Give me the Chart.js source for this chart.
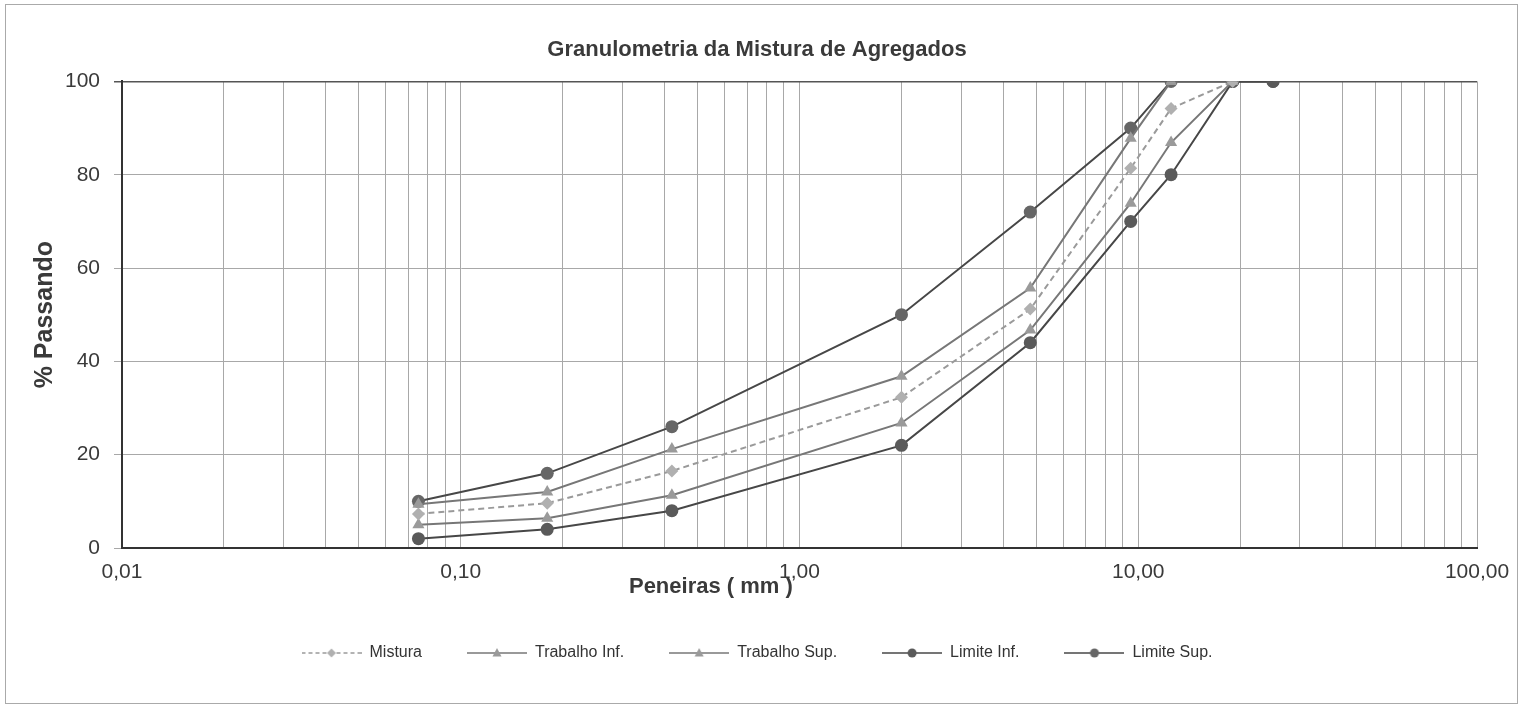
<!DOCTYPE html>
<html>
<head>
<meta charset="utf-8">
<script src="https://cdn.jsdelivr.net/npm/chart.js@4.4.1/dist/chart.umd.min.js"></script>
<style>
  html, body { margin: 0; padding: 0; background: #fff; }
</style>
</head>
<body>
<canvas id="granulometria" width="1523" height="708"></canvas>
<script>
var peneiras = [0.075, 0.18, 0.42, 2.0, 4.8, 9.5, 12.5, 19, 25];
var mistura = [7.3, 9.6, 16.5, 32.3, 51.2, 81.4, 94.2, 100, null];
var trabalhoInf = [5, 6.4, 11.3, 26.8, 46.7, 73.9, 86.9, 100, null];
var trabalhoSup = [9.4, 12, 21.2, 36.8, 55.7, 87.8, 100, 100, null];
var limiteInf = [2, 4, 8, 22, 44, 70, 80, 100, 100];
var limiteSup = [10, 16, 26, 50, 72, 90, 100, 100, 100];
var xTicks = [0.01, 0.1, 1, 10, 100];

function pts(vals) {
  var out = [];
  for (var i = 0; i < peneiras.length; i++) {
    if (vals[i] !== null) out.push({ x: peneiras[i], y: vals[i] });
  }
  return out;
}

// legend sample: short line with the marker in the middle
function legendIcon(lineColor, markColor, style, dashed) {
  var c = document.createElement("canvas");
  c.width = 60; c.height = 14;
  var g = c.getContext("2d");
  g.strokeStyle = lineColor;
  g.lineWidth = 1.5;
  if (dashed) g.setLineDash([4, 3]);
  g.beginPath(); g.moveTo(0, 7); g.lineTo(60, 7); g.stroke();
  g.setLineDash([]);
  g.fillStyle = markColor;
  g.beginPath();
  if (style === "triangle") { g.moveTo(30, 2); g.lineTo(34.5, 10.5); g.lineTo(25.5, 10.5); g.closePath(); }
  else if (style === "rectRot") { g.moveTo(30, 2.5); g.lineTo(34.5, 7); g.lineTo(30, 11.5); g.lineTo(25.5, 7); g.closePath(); }
  else { g.arc(30, 7, 4.5, 0, Math.PI * 2); }
  g.fill();
  return c;
}

var series = [
  { label: "Mistura", data: mistura, line: "#9a9a9a", mark: "#b0b0b0", style: "rectRot", dash: [6, 4], r: 6.5 },
  { label: "Trabalho Inf.", data: trabalhoInf, line: "#777777", mark: "#9a9a9a", style: "triangle", dash: [], r: 7 },
  { label: "Trabalho Sup.", data: trabalhoSup, line: "#777777", mark: "#9a9a9a", style: "triangle", dash: [], r: 7 },
  { label: "Limite Inf.", data: limiteInf, line: "#474747", mark: "#5a5a5a", style: "circle", dash: [], r: 6.5 },
  { label: "Limite Sup.", data: limiteSup, line: "#474747", mark: "#666666", style: "circle", dash: [], r: 6.5 }
];

var datasets = series.map(function (s) {
  return {
    label: s.label,
    data: pts(s.data),
    borderColor: s.line,
    backgroundColor: s.mark,
    borderWidth: 2,
    borderDash: s.dash,
    pointStyle: s.style,
    pointRadius: s.r,
    pointBorderWidth: 0,
    pointBackgroundColor: s.mark,
    tension: 0,
    _icon: legendIcon(s.line, s.mark, s.style, s.dash.length > 0)
  };
});

var frame = {
  id: "frame",
  beforeDraw: function (chart) {
    var g = chart.ctx;
    g.save();
    g.strokeStyle = "#aaaaaa";
    g.lineWidth = 1;
    g.strokeRect(5.5, 4.5, chart.width - 11, chart.height - 9);
    g.restore();
  }
};

new Chart("granulometria", {
  type: "line",
  data: { datasets: datasets },
  plugins: [frame],
  options: {
    responsive: false,
    animation: false,
    layout: { padding: { left: 37, right: 46, top: 8, bottom: 37 } },
    plugins: {
      title: {
        display: true,
        text: "Granulometria da Mistura de Agregados",
        color: "#3a3a3a",
        font: { family: "Liberation Sans", size: 22, weight: "bold" },
        padding: { top: 29, bottom: 18 }
      },
      legend: {
        position: "bottom",
        labels: {
          color: "#333",
          font: { family: "Liberation Sans", size: 16 },
          usePointStyle: true,
          pointStyleWidth: 60,
          padding: 45,
          generateLabels: function (chart) {
            return chart.data.datasets.map(function (ds, i) {
              return {
                text: ds.label,
                pointStyle: ds._icon,
                datasetIndex: i,
                fontColor: "#333",
                lineWidth: 0,
                strokeStyle: "transparent",
                fillStyle: "transparent"
              };
            });
          }
        }
      },
      tooltip: { enabled: false }
    },
    scales: {
      x: {
        type: "logarithmic",
        min: 0.01,
        max: 100,
        afterFit: function (axis) { axis.height = 52; },
        afterBuildTicks: function (axis) {
          var t = [];
          for (var e = -2; e <= 1; e++) {
            for (var m = 1; m <= 9; m++) t.push({ value: m * Math.pow(10, e) });
          }
          t.push({ value: 100 });
          axis.ticks = t;
        },
        ticks: {
          autoSkip: false,
          maxRotation: 0,
          padding: 12,
          color: "#3a3a3a",
          font: { family: "Liberation Sans", size: 21 },
          callback: function (v) {
            for (var i = 0; i < xTicks.length; i++) {
              if (Math.abs(v - xTicks[i]) < xTicks[i] * 1e-6) return xTicks[i].toFixed(2).replace(".", ",");
            }
            return "";
          }
        },
        grid: { color: "#a8a8a8", lineWidth: 1, drawTicks: false },
        border: { color: "#333", width: 2 },
        title: {
          display: true,
          text: "Peneiras ( mm )" + "\u00A0".repeat(29),
          color: "#3a3a3a",
          font: { family: "Liberation Sans", size: 22, weight: "bold" },
          padding: { top: 0, bottom: 0 }
        }
      },
      y: {
        min: 0,
        max: 100,
        afterFit: function (axis) { axis.width = 85; },
        ticks: {
          stepSize: 20,
          color: "#3a3a3a",
          padding: 14,
          font: { family: "Liberation Sans", size: 21 }
        },
        grid: {
          color: function (ctx) { return ctx.tick && ctx.tick.value === 100 ? "#555555" : "#a8a8a8"; },
          lineWidth: function (ctx) { return ctx.tick && ctx.tick.value === 100 ? 1.5 : 1; },
          tickLength: 8
        },
        border: { color: "#333", width: 2 },
        title: {
          display: true,
          text: "% Passando",
          color: "#3a3a3a",
          font: { family: "Liberation Sans", size: 25, weight: "bold" },
          padding: { top: -7, bottom: 0 }
        }
      }
    }
  }
});
</script>
</body>
</html>
